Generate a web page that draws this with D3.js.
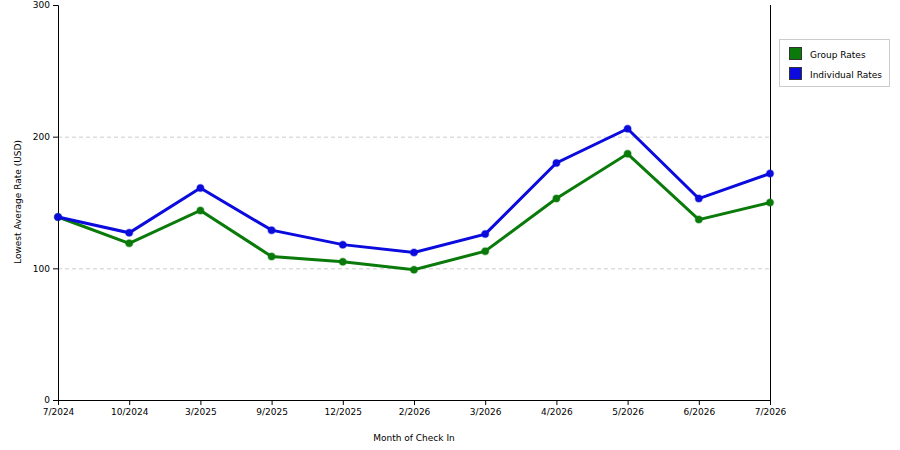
<!DOCTYPE html><html><head><meta charset="utf-8"><script src="https://cdn.jsdelivr.net/npm/d3@7"></script>
<style>body{margin:0;background:#fff}text{font-family:"DejaVu Sans",Verdana,sans-serif;font-size:9px;fill:#000}</style></head><body>
<svg id="c" width="900" height="450"></svg>
<script>
const categories=["7/2024","10/2024","3/2025","9/2025","12/2025","2/2026","3/2026","4/2026","5/2026","6/2026","7/2026"];
const groupRates=[139,119,144,109,105,99,113,153,187,137,150];
const individualRates=[139,127,161,129,118,112,126,180,206,153,172];
const yTicks=[0,100,200,300];
const svg=d3.select("#c");
const L=58,R=770,T=5,B=400;
const x=d3.scalePoint().domain(categories).range([L,R]);
const y=d3.scaleLinear().domain([0,300]).range([B,T]);
svg.append("g").selectAll("line").data([100,200]).join("line").attr("x1",L).attr("x2",R).attr("y1",d=>y(d)+0.5).attr("y2",d=>y(d)+0.5).attr("stroke","#ccc").attr("stroke-dasharray","4,3");
svg.append("line").attr("x1",R+0.5).attr("x2",R+0.5).attr("y1",T).attr("y2",B).attr("stroke","#000").attr("stroke-width",1).attr("shape-rendering","crispEdges");
const ya=svg.append("g").attr("transform",`translate(${L},0)`).call(d3.axisLeft(y).tickValues(yTicks).tickSize(5).tickFormat(d3.format("d")));
const xa=svg.append("g").attr("transform",`translate(0,${B})`).call(d3.axisBottom(x).tickSize(5).tickPadding(4));
[ya,xa].forEach(a=>{a.selectAll("text").style("font-size","9px").style("font-family","DejaVu Sans");a.select(".domain").attr("stroke","#000");});
svg.append("text").attr("x",414).attr("y",441).attr("text-anchor","middle").text("Month of Check In");
svg.append("text").attr("transform","translate(21,202) rotate(-90)").attr("text-anchor","middle").text("Lowest Average Rate (USD)");
const line=d3.line().x((d,i)=>x(categories[i])).y(d=>y(d));
[[groupRates,"#0a7a0a"],[individualRates,"#0b0bdd"]].forEach(([s,c])=>{
svg.append("path").datum(s).attr("d",line).attr("fill","none").attr("stroke",c).attr("stroke-width",3);
svg.append("g").selectAll("circle").data(s).join("circle").attr("cx",(d,i)=>x(categories[i])).attr("cy",d=>y(d)).attr("r",3.5).attr("fill",c).attr("stroke",c).attr("stroke-opacity",0.4).attr("stroke-width",1.5);
});
const lg=svg.append("g");
lg.append("rect").attr("x",779.5).attr("y",39.5).attr("width",110).attr("height",47).attr("fill","#fff").attr("stroke","#ccc");
[["Group Rates","#0a7a0a"],["Individual Rates","#0b0bdd"]].forEach(([t,c],i)=>{
lg.append("rect").attr("x",789.5).attr("y",47.5+i*20).attr("width",12).attr("height",12).attr("fill",c).attr("stroke","#333");
lg.append("text").attr("x",810).attr("y",58+i*20).text(t);
});
</script></body></html>
